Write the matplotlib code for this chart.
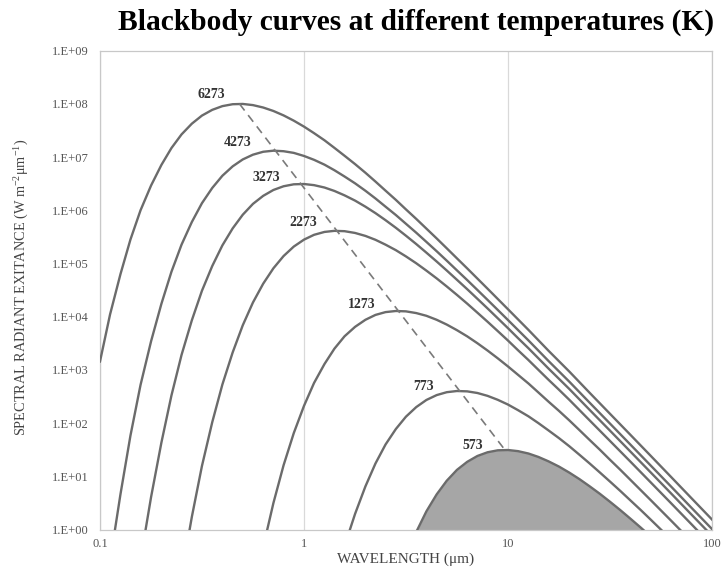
import numpy as np
import matplotlib
matplotlib.use("Agg")
import matplotlib.pyplot as plt
from matplotlib.ticker import FixedLocator, FuncFormatter, NullLocator

plt.rcParams['font.family'] = ['Liberation Serif', 'DejaVu Serif']
plt.rcParams['mathtext.fontset'] = 'custom'
plt.rcParams['mathtext.rm'] = 'Liberation Serif'
plt.rcParams['mathtext.it'] = 'Liberation Serif:italic'

# ---- data (wavelength in micrometres, exitance in W m-2 um-1) ----
labels = ["6273", "4273", "3273", "2273", "1273", "773", "573"]

wl_6273 = [0.1, 0.112, 0.126, 0.141, 0.158, 0.178, 0.2, 0.224, 0.251, 0.282,
           0.316, 0.355, 0.398, 0.447, 0.501, 0.562, 0.631, 0.708, 0.794, 0.891,
           1, 1.12, 1.26, 1.41, 1.58, 1.78, 2, 2.24, 2.51, 2.82,
           3.16, 3.55, 3.98, 4.47, 5.01, 5.62, 6.31, 7.94, 10, 12.6,
           15.8, 20, 25.1, 31.6, 39.8, 50.1, 63.1, 79.4, 100]
m_6273 = [1.44e3, 1.10e4, 6.32e4, 2.82e5, 1.00e6, 2.93e6, 7.13e6, 1.48e7, 2.67e7, 4.25e7,
          6.03e7, 7.73e7, 9.08e7, 9.86e7, 9.98e7, 9.49e7, 8.55e7, 7.36e7, 6.08e7, 4.84e7,
          3.74e7, 2.82e7, 2.07e7, 1.49e7, 1.06e7, 7.38e6, 5.08e6, 3.47e6, 2.34e6, 1.57e6,
          1.04e6, 6.89e5, 4.53e5, 2.96e5, 1.93e5, 1.25e5, 8.09e4, 3.36e4, 1.38e4, 5.64e3,
          2.29e3, 927, 373, 150, 60.3, 24.2, 9.66, 3.86, 1.54]

wl_4273 = [0.112, 0.126, 0.141, 0.158, 0.178, 0.2, 0.224, 0.251, 0.282, 0.316,
           0.355, 0.398, 0.447, 0.501, 0.562, 0.631, 0.708, 0.794, 0.891, 1,
           1.12, 1.26, 1.41, 1.58, 1.78, 2, 2.24, 2.51, 2.82, 3.16,
           3.55, 3.98, 4.47, 5.01, 5.62, 6.31, 7.08, 7.94, 8.91, 10,
           12.6, 15.8, 20, 25.1, 31.6, 39.8, 50.1, 63.1, 79.4, 100]
m_4273 = [0.251, 4.61, 58.1, 521, 3.46e3, 1.75e4, 7.00e4, 2.26e5, 6.03e5, 1.36e6,
          2.63e6, 4.46e6, 6.70e6, 9.04e6, 1.11e7, 1.26e7, 1.32e7, 1.29e7, 1.20e7, 1.05e7,
          8.89e6, 7.21e6, 5.66e6, 4.32e6, 3.21e6, 2.33e6, 1.67e6, 1.17e6, 8.15e5, 5.58e5,
          3.79e5, 2.55e5, 1.70e5, 1.13e5, 7.43e4, 4.88e4, 3.18e4, 2.07e4, 1.34e4, 8.65e3,
          3.58e3, 1.47e3, 598, 243, 98.2, 39.5, 15.9, 6.38, 2.55, 1.02]

wl_3273 = [0.158, 0.178, 0.2, 0.224, 0.251, 0.282, 0.316, 0.355, 0.398, 0.447,
           0.501, 0.562, 0.631, 0.708, 0.794, 0.891, 1, 1.12, 1.26, 1.41,
           1.58, 1.78, 2, 2.24, 2.51, 2.82, 3.16, 3.55, 3.98, 4.47,
           5.01, 5.62, 6.31, 7.08, 7.94, 8.91, 10, 11.2, 12.6, 15.8,
           20, 25.1, 31.6, 39.8, 50.1, 63.1, 79.4, 100]
m_3273 = [0.270, 4.08, 43.1, 331, 1.91e3, 8.57e3, 3.07e4, 8.97e4, 2.19e5, 4.57e5,
          8.26e5, 1.32e6, 1.87e6, 2.41e6, 2.83e6, 3.08e6, 3.12e6, 2.97e6, 2.68e6, 2.31e6,
          1.91e6, 1.52e6, 1.17e6, 8.85e5, 6.52e5, 4.69e5, 3.33e5, 2.32e5, 1.60e5, 1.09e5,
          7.38e4, 4.94e4, 3.29e4, 2.17e4, 1.43e4, 9.33e3, 6.08e3, 3.95e3, 2.55e3, 1.06e3,
          436, 178, 72.3, 29.2, 11.8, 4.74, 1.90, 0.762]

wl_2273 = [0.251, 0.282, 0.316, 0.355, 0.398, 0.447, 0.501, 0.562, 0.631, 0.708,
           0.794, 0.891, 1, 1.12, 1.26, 1.41, 1.58, 1.78, 2, 2.24,
           2.51, 2.82, 3.16, 3.55, 3.98, 4.47, 5.01, 5.62, 6.31, 7.08,
           7.94, 8.91, 10, 11.2, 12.6, 14.1, 15.8, 17.8, 20, 25.1,
           31.6, 39.8, 50.1, 63.1, 79.4, 100]
m_2273 = [0.136, 1.73, 15.6, 104, 531, 2.13e3, 6.90e3, 1.85e4, 4.18e4, 8.13e4,
          1.38e5, 2.08e5, 2.81e5, 3.46e5, 3.92e5, 4.11e5, 4.05e5, 3.75e5, 3.30e5, 2.79e5,
          2.26e5, 1.78e5, 1.36e5, 1.01e5, 7.35e4, 5.25e4, 3.70e4, 2.57e4, 1.76e4, 1.19e4,
          8.04e3, 5.36e3, 3.56e3, 2.34e3, 1.53e3, 1.00e3, 652, 422, 273, 113,
          46.3, 18.9, 7.67, 3.10, 1.25, 0.50]

wl_1273 = [0.631, 0.708, 0.794, 0.891, 1, 1.12, 1.26, 1.41, 1.58, 1.78,
           2, 2.24, 2.51, 2.82, 3.16, 3.55, 3.98, 4.47, 5.01, 5.62,
           6.31, 7.08, 7.94, 8.91, 10, 11.2, 12.6, 14.1, 15.8, 17.8,
           20, 22.4, 25.1, 28.2, 31.6, 35.5, 39.8, 50.1, 63.1, 79.4]
m_1273 = [0.468, 3.14, 16.1, 64.9, 211, 568, 1.29e3, 2.51e3, 4.28e3, 6.45e3,
          8.75e3, 1.08e4, 1.22e4, 1.28e4, 1.26e4, 1.17e4, 1.04e4, 8.75e3, 7.11e3, 5.58e3,
          4.27e3, 3.17e3, 2.31e3, 1.65e3, 1.16e3, 808, 555, 376, 253, 169,
          112, 73.8, 48.4, 31.6, 20.5, 13.3, 8.59, 3.56, 1.46, 0.596]

wl_773 = [1.58, 1.78, 2, 2.24, 2.51, 2.82, 3.16, 3.55, 3.98, 4.47,
          5.01, 5.62, 6.31, 7.08, 7.94, 8.91, 10, 11.2, 12.6, 14.1,
          15.8, 17.8, 20, 22.4, 25.1, 28.2, 31.6, 35.5, 39.8, 44.7,
          50.1, 56.2, 63.1]
m_773 = [0.488, 1.97, 6.46, 17.4, 39.6, 77.4, 132, 200, 272, 336,
         381, 401, 395, 368, 325, 274, 223, 175, 134, 99.8,
         72.8, 52.0, 36.6, 25.4, 17.5, 11.8, 7.98, 5.32, 3.53, 2.33,
         1.53, 0.996, 0.647]

wl_573 = [3.16, 3.55, 3.98, 4.47, 5.01, 5.62, 6.31, 7.08, 7.94, 8.91,
          10, 11.2, 12.6, 14.1, 15.8, 17.8, 20, 22.4, 25.1, 28.2,
          31.6, 35.5, 39.8, 44.7, 50.1]
m_573 = [0.306, 0.897, 2.19, 4.57, 8.26, 13.2, 18.7, 24.1, 28.3, 30.8,
         31.2, 29.7, 26.8, 23.1, 19.1, 15.2, 11.7, 8.85, 6.51, 4.69,
         3.33, 2.32, 1.60, 1.09, 0.738]

# peak of each curve (dashed displacement line)
peak_wavelength = [0.483, 0.724, 0.966, 1.449, 2.898, 5.796, 9.66]
peak_exitance = [1.00e8, 1.32e7, 3.13e6, 4.12e5, 1.29e4, 402, 31.3]

curves = [(wl_6273, m_6273), (wl_4273, m_4273), (wl_3273, m_3273), (wl_2273, m_2273),
          (wl_1273, m_1273), (wl_773, m_773), (wl_573, m_573)]

# label offsets (points) relative to each peak
label_offsets = [(-10.5, 7), (-17, 6), (-15, 4.5), (-14.5, 6), (-16.5, 4.5), (-18.5, 3), (-16, 3.5)]

line_color = '#6b6b6b'
fig = plt.figure(figsize=(7.23, 5.72), dpi=100)
ax = fig.add_axes([100/723, 42.5/572, 612/723, 478.8/572])
ax.set_xscale('log')
ax.set_yscale('log')
ax.set_xlim(0.1, 100)
ax.set_ylim(1, 1e9)

for i, (w, m) in enumerate(curves):
    if i == len(curves) - 1:
        ax.fill_between(w, m, 1e-3, color='#a6a6a6', lw=0, zorder=2)
    ax.plot(w, m, color=line_color, lw=1.7, zorder=3, solid_joinstyle='round')

ax.plot(peak_wavelength, peak_exitance, color='#7a7a7a', lw=1.2, ls=(0, (5, 3.5)), zorder=4)

for lab, px, py, off in zip(labels, peak_wavelength, peak_exitance, label_offsets):
    ax.annotate(lab, (px, py), xytext=off, textcoords='offset points',
                ha='right', va='center', fontsize=10, fontweight='bold', color='#333333', zorder=5)

ax.xaxis.set_major_locator(FixedLocator([0.1, 1, 10, 100]))
ax.xaxis.set_minor_locator(NullLocator())
ax.xaxis.set_major_formatter(FuncFormatter(lambda v, p: ('%g' % v)))
ax.yaxis.set_major_locator(FixedLocator([10.0**k for k in range(0, 10)]))
ax.yaxis.set_minor_locator(NullLocator())
ax.yaxis.set_major_formatter(FuncFormatter(lambda v, p: '1.E+%02d' % int(round(np.log10(v)))))

ax.tick_params(axis='both', length=0, labelsize=9, labelcolor='#555555')
ax.tick_params(axis='y', pad=8)
ax.tick_params(axis='x', pad=6)
ax.grid(True, axis='x', which='major', color='#d9d9d9', lw=0.9)
for s in ax.spines.values():
    s.set_color('#c8c8c8')
    s.set_linewidth(0.9)

ax.set_xlabel('WAVELENGTH (μm)', fontsize=11, color='#444444', labelpad=2)
fig.text(22/723, 1 - 287/572, 'SPECTRAL RADIANT EXITANCE (W m$^{-2}$μm$^{-1}$)',
         rotation=90, ha='center', va='center', fontsize=10.3, color='#444444')

fig.text(416/723, 1 - 22/572, 'Blackbody curves at different temperatures (K)',
         ha='center', va='center', fontsize=21.2, fontweight='bold', color='black')

fig.savefig('out.png', dpi=100)
